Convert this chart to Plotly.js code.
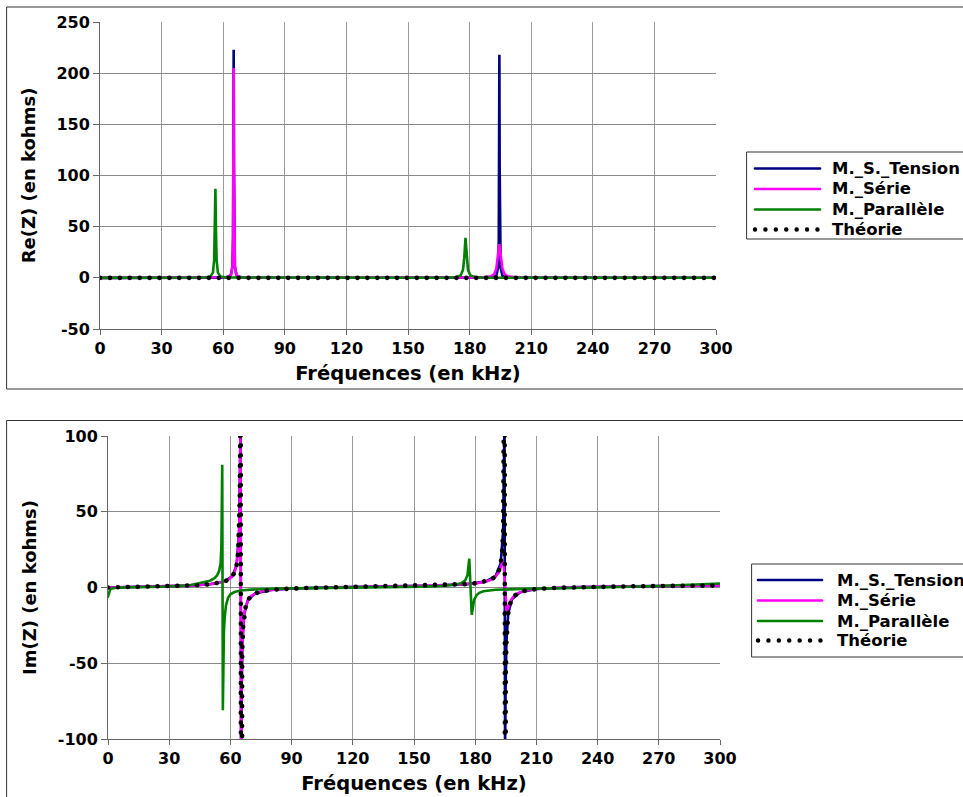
<!DOCTYPE html>
<html><head><meta charset="utf-8">
<script src="https://cdn.plot.ly/plotly-3.0.1.min.js"></script>
<style>
html,body{margin:0;padding:0;background:#fff;}
#chart{width:963px;height:797px;}
.js-line{stroke-linecap:round;}
.shapelayer path{stroke-linecap:round;}
</style></head><body><div id="chart"></div>
<script>
// ---------- Re(Z) (top chart), kHz / kohms ----------
const freqTensionRe = [0,55,60,63.6,64.5,64.8,64.965,65.1,65.235,65.4,65.7,66.6,70,120,180,189.5,193,193.9,194.2,194.36,194.5,194.64,194.8,195.1,196,199.5,250,300];
const reTension     = [0,0.1,0.16,1.8,10.7,37.5,111.5,223,111.5,37.5,10.7,1.8,0.16,0.02,0.05,0.16,1.8,10.2,36.4,109,218,109,36.4,10.2,1.8,0.16,0.02,0.01];

const freqSerieRe = [0,40,55,59.1,62.1,63.9,64.5,64.8,64.95,65.1,65.25,65.4,65.7,66.3,68.1,75,120,170,179.5,186.5,190.5,192,193,193.6,194.05,194.5,194.95,195.4,196,197,198.5,202.5,209.5,240,300];
const reSerie     = [0,0.03,0.15,0.2,0.51,3.15,12.1,41,102.5,205,102.5,41,12.1,3.15,0.51,0.1,0.05,0.1,0.15,0.41,1.59,3.8,8.7,16.5,26.4,33,26.4,16.5,8.7,3.8,1.59,0.41,0.15,0.05,0.02];

const freqParalleleRe = [0,30,45,51.2,53.7,55,55.6,55.9,56.2,56.5,56.8,57.4,58.7,61.2,80,140,168,173,175.6,176.8,177.4,177.7,178.0,178.3,178.6,179.2,180.4,183,188,220,300];
const reParallele     = [0,0.05,0.15,0.3,1.2,5.1,17.4,43.5,87,43.5,17.4,5.1,1.2,0.3,0.1,0.1,0.14,0.55,2.3,7.8,19.5,31.2,39,31.2,19.5,7.8,2.3,0.55,0.14,0.05,0.05];

const freqTheorieRe = [0,300];
const reTheorie     = [0,0];

// ---------- Im(Z) (bottom chart), kHz / kohms ----------
const freqTensionIm = [0,10,20,30,40,50,57,61,63,64.3,64.7,64.965,65.1,65.235,65.5,65.9,66.8,68.5,72,80,90,110,135,160,176,185,190,192.5,193.7,194.1,194.36,194.5,194.64,194.9,195.3,196.2,198,202,210,230,255,285,300];
const imTension     = [0,0.22,0.47,0.77,1.22,2.12,3.91,7.57,14.5,37,68,112,0.5,-111,-67,-36,-17.4,-8.5,-4.0,-1.57,-0.66,0.1,0.67,1.33,2.24,3.86,7.41,16,37.8,68.7,109.8,0.8,-108,-67,-36,-17,-7.8,-3.2,-1.0,0.23,0.77,1.15,1.3];

const freqSerieIm = [0,10,20,30,40,50,54,57,59,61,62,63,63.9,64.5,64.8,64.95,65.1,65.25,65.4,65.7,66.3,67,68.5,70,72,75,80,90,100,120,150,170,181,185,188,190,191.5,192.5,193.2,193.6,194.05,194.5,194.95,195.4,195.8,196.5,197.5,199,201,205,210,220,240,270,300];
const imSerie     = [0,0.22,0.47,0.77,1.22,2.12,2.88,3.91,5.15,7.57,9.93,14.8,25.7,48.7,82.5,103,0.5,-102,-81.5,-47.7,-24.7,-15.5,-8.5,-5.8,-4.0,-2.64,-1.57,-0.66,-0.21,0.34,1.02,1.78,2.88,3.86,5.3,7.15,9.9,13.1,16.2,17.3,14,0.8,-12.4,-15.7,-14.6,-11.5,-8.3,-5.55,-3.7,-2.0,-1.02,-0.18,0.49,0.98,1.3];

const freqParalleleIm = [0,0.5,1,2,4,10,20,30,40,45,50,52,53.5,54.5,55.2,55.6,55.8,56.0,56.3,56.5,56.8,57.2,57.8,58.8,60,62,65,70,80,100,120,140,155,165,170,173,175,176.2,176.7,177.1,178.3,178.8,179.5,180.7,182,184,190,200,210,230,250,270,285,300];
const imParallele     = [-6,-3,-1.5,-0.6,-0.2,0.1,0.3,0.7,1.5,2.8,4.5,6,8,11,16,28,50,81,-81,-50,-30,-20,-12,-7,-4.5,-3,-2,-1.4,-0.8,-0.4,-0.1,0.2,0.6,1.2,1.8,2.8,4.5,8,13,19,-18,-13,-8,-5,-3.5,-2.5,-1.5,-1.1,-0.9,-0.4,0.3,1.0,1.7,2.6];

const freqTheorieIm = [0,10,20,30,40,45,50,54,57,59,61,62,63,63.8,64.3,64.6,64.8,64.95,65.05,65.15,65.3,65.5,65.8,66.2,66.8,67.5,68.5,70,72,75,80,85,90,100,110,120,135,150,160,170,176,181,185,188,190,191.5,192.5,193.2,193.7,194.0,194.2,194.35,194.45,194.55,194.65,194.8,195.0,195.3,195.7,196.2,197,198,199.5,202,205,210,220,230,240,255,270,285,300];
const imTheorie     = [0,0.22,0.47,0.77,1.22,1.57,2.12,2.88,3.91,5.15,7.57,9.93,14.55,23.3,37.8,60.3,100.2,200,600,-600,-149.6,-74.7,-42.6,-27.0,-17.4,-12.2,-8.5,-5.78,-3.99,-2.64,-1.57,-1.01,-0.66,-0.21,0.10,0.34,0.67,1.02,1.33,1.78,2.24,2.88,3.86,5.34,7.41,10.75,15.76,23.8,38.3,60.8,100.9,201.5,608,-592,-198.5,-99.1,-59.2,-36.8,-24.3,-16.95,-11.19,-7.77,-5.19,-3.16,-1.99,-1.02,-0.18,0.23,0.49,0.77,0.98,1.15,1.3];

// ---------- names and ticks ----------
const seriesNames = ['M._S._Tension','M._Série','M._Parallèle','Théorie'];
const xTickVals = [0,30,60,90,120,150,180,210,240,270,300];
const xTickText = ['0','30','60','90','120','150','180','210','240','270','300'];
const reTickVals = [-50,0,50,100,150,200,250];
const reTickText = ['-50','0','50','100','150','200','250'];
const imTickVals = [-100,-50,0,50,100];
const imTickText = ['-100','-50','0','50','100'];

const W = 963, H = 797;
const FONT = 'DejaVu Sans';
const colors = ['#000080','#ff00ff','#008000','#000000'];
const DOTS = '0.1px,9.8px';

function mk(x, y, i, xa, ya) {
  const t = {x:x, y:y, type:'scatter', mode:'lines', name:seriesNames[i],
    xaxis:xa, yaxis:ya, showlegend:false, cliponaxis:true,
    line:{color:colors[i], width:2.6}};
  if (i === 3) t.line = {color:'#000', width:4.6, dash:DOTS};
  return t;
}
const data = [
  mk(freqTensionRe, reTension, 0, 'x', 'y'),
  mk(freqSerieRe, reSerie, 1, 'x', 'y'),
  mk(freqParalleleRe, reParallele, 2, 'x', 'y'),
  mk(freqTheorieRe, reTheorie, 3, 'x', 'y'),
  mk(freqTensionIm, imTension, 0, 'x2', 'y2'),
  mk(freqSerieIm, imSerie, 1, 'x2', 'y2'),
  mk(freqParalleleIm, imParallele, 2, 'x2', 'y2'),
  mk(freqTheorieIm, imTheorie, 3, 'x2', 'y2')
];

const tickFont = {family:FONT, size:16, color:'#000', weight:'bold'};
const xTitleFont = {family:FONT, size:19.5, color:'#000', weight:'bold'};
const yTitleFont = {family:FONT, size:18, color:'#000', weight:'bold'};
function xa(d0, d1, anchor) {
  return {domain:[d0/W, d1/W], anchor:anchor, range:[0,300], tickmode:'array', tickvals:xTickVals, ticktext:xTickText,
    showgrid:true, gridcolor:'#9a9a9a', gridwidth:1, zeroline:false, showline:true, linecolor:'#666', linewidth:1,
    ticks:'outside', ticklen:5, tickcolor:'#666', tickfont:tickFont, automargin:false,
    title:{text:'Fréquences (en kHz)', font:xTitleFont, standoff:9}};
}
function ya(top, bot, anchor, rng, tv, tt, title) {
  return {domain:[1-bot/H, 1-top/H], anchor:anchor, range:rng, tickmode:'array', tickvals:tv, ticktext:tt,
    showgrid:true, gridcolor:'#8a8a8a', gridwidth:1, zeroline:false, showline:true, linecolor:'#666', linewidth:1,
    ticks:'outside', ticklen:6, tickcolor:'#666', tickfont:tickFont, automargin:false,
    title:{text:title, font:yTitleFont, standoff:16}};
}

// manual legends (box, sample lines, names)
const legFont = {family:FONT, size:16.5, color:'#000', weight:'bold'};
const legends = [
  {box:[747,152,1000,239], lineX:[755,820], textX:831, rows:[168.5,189,209.5,229.5]},
  {box:[752,564,1000,657], lineX:[758,822], textX:836, rows:[580,600.5,621,640.5]}
];
const shapes = [
  {type:'rect', xref:'paper', yref:'paper', x0:7/W, x1:1.05, y0:1-389/H, y1:1-7/H, line:{color:'#333', width:1}, layer:'below'},
  {type:'rect', xref:'paper', yref:'paper', x0:7/W, x1:1.05, y0:-0.05, y1:1-420.5/H, line:{color:'#333', width:1}, layer:'below'}
];
const annotations = [];
legends.forEach(function(L) {
  shapes.push({type:'rect', xref:'paper', yref:'paper', x0:L.box[0]/W, x1:L.box[2]/W, y0:1-L.box[3]/H, y1:1-L.box[1]/H,
    line:{color:'#333', width:1}, fillcolor:'#fff', layer:'above'});
  seriesNames.forEach(function(name, i) {
    const yy = 1 - L.rows[i]/H;
    const ln = (i === 3) ? {color:'#000', width:4.4, dash:'0.1px,10.3px'} : {color:colors[i], width:2.6};
    shapes.push({type:'line', xref:'paper', yref:'paper', x0:L.lineX[0]/W, x1:L.lineX[1]/W, y0:yy, y1:yy, line:ln, layer:'above'});
    annotations.push({xref:'paper', yref:'paper', x:L.textX/W, y:yy, xanchor:'left', yanchor:'middle', text:name,
      showarrow:false, font:legFont, borderpad:0});
  });
});

const layout = {
  width:W, height:H, margin:{l:0,r:0,t:0,b:0}, paper_bgcolor:'#fff', plot_bgcolor:'#fff',
  xaxis: xa(100, 716, 'y'),
  yaxis: ya(22, 329, 'x', [-50,250], reTickVals, reTickText, 'Re(Z) (en kohms)'),
  xaxis2: xa(108, 720, 'y2'),
  yaxis2: ya(436, 739, 'x2', [-100,100], imTickVals, imTickText, 'Im(Z) (en kohms)'),
  shapes: shapes,
  annotations: annotations,
  showlegend:false
};
Plotly.newPlot('chart', data, layout, {displayModeBar:false, staticPlot:true});
</script></body></html>
